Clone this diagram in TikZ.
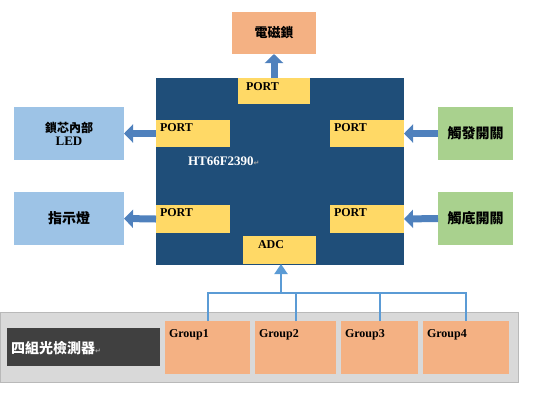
\documentclass[tikz,border=0pt]{standalone}
\usepackage{fontspec}
\setmainfont{Liberation Serif}
\newfontfamily\cjk{Noto Sans CJK TC}
\newfontfamily\symfont{DejaVu Sans}
\usetikzlibrary{arrows.meta}

\definecolor{mcublue}{HTML}{1F4E79}
\definecolor{portyellow}{HTML}{FFD966}
\definecolor{salmon}{HTML}{F4B183}
\definecolor{ledblue}{HTML}{9DC3E6}
\definecolor{swgreen}{HTML}{A9D18E}
\definecolor{arrowblue}{HTML}{4F81BD}
\definecolor{wireblue}{HTML}{5B9BD5}
\definecolor{panelgray}{HTML}{D9D9D9}
\definecolor{darkgray}{HTML}{404040}

\tikzset{every node/.style={inner sep=0pt, outer sep=0pt}}
\tikzset{box/.style={rectangle, minimum width=#1}}
\tikzset{portbox/.style={rectangle, fill=portyellow, minimum height=27pt}}
\tikzset{tag/.style={font=\bfseries\fontsize{12}{12}\selectfont, anchor=north west}}
\tikzset{hanzi/.style={font=\cjk\bfseries\fontsize{#1}{#1}\selectfont}}
\tikzstyle{fat}=[arrowblue, line width=7pt, -{Triangle[width=18pt,length=9pt]}]
\tikzstyle{wire}=[wireblue, line width=2pt]
\newcommand{\retmark}{{\symfont\fontsize{7}{7}\selectfont\color{gray!70}↵}}

\begin{document}
\begin{tikzpicture}[x=1pt, y=-1pt]
            \useasboundingbox (0,0) rectangle (534,400);
            \node [box=84pt, minimum height=42pt, fill=salmon, hanzi=13] (lock) at (274,33) {電磁鎖};
            \node [box=248pt, minimum height=187pt, fill=mcublue] (mcu) at (280,171.5) {};
            \node [text=white, font=\bfseries\fontsize{13}{13}\selectfont, anchor=west] (chip) at (188,161) {HT66F2390\retmark};
            \node [portbox, minimum width=72pt, minimum height=26pt] (portT) at (274,91) {};
            \node [portbox, minimum width=74pt] (portL1) at (193,133.5) {};
            \node [portbox, minimum width=74pt] (portR1) at (367,133.5) {};
            \node [portbox, minimum width=74pt, minimum height=28pt] (portL2) at (193,219) {};
            \node [portbox, minimum width=74pt, minimum height=28pt] (portR2) at (367,219) {};
            \node [portbox, minimum width=73pt, minimum height=28pt] (adc) at (279.5,250) {};
            \node [tag] at ([xshift=8pt, yshift=-5pt]portT.north west) {PORT};
            \node [tag] at ([xshift=4pt, yshift=-4pt]portL1.north west) {PORT};
            \node [tag] at ([xshift=4pt, yshift=-4pt]portR1.north west) {PORT};
            \node [tag] at ([xshift=4pt, yshift=-4pt]portL2.north west) {PORT};
            \node [tag] at ([xshift=4pt, yshift=-4pt]portR2.north west) {PORT};
            \node [tag] at ([xshift=15pt, yshift=-5pt]adc.north west) {ADC};
            \node [box=110pt, minimum height=53pt, fill=ledblue, align=center] (led) at (69,133.5)
                {{\cjk\bfseries\fontsize{12}{13}\selectfont 鎖芯內部}\\[1pt]{\bfseries\fontsize{13}{13}\selectfont LED}};
            \node [box=110pt, minimum height=53pt, fill=ledblue, hanzi=14] (lamp) at (69,218.5) {指示燈};
            \node [box=75pt, minimum height=53pt, fill=swgreen, hanzi=14] (trig) at (475.5,133.5) {觸發開關};
            \node [box=75pt, minimum height=53pt, fill=swgreen, hanzi=14] (stop) at (475.5,218.5) {觸底開關};
            \draw [fat] (portT.north) -- (lock.south);
            \draw [fat] (portL1.west) -- (led.east);
            \draw [fat] (portL2.west) -- (lamp.east);
            \draw [fat] (trig.west) -- (portR1.east);
            \draw [fat] (stop.west) -- (portR2.east);
            \node [box=518pt, minimum height=70pt, fill=panelgray, draw=gray!55] (panel) at (259,347) {};
            \node [box=153pt, minimum height=38pt, fill=darkgray] (sensor) at (83.5,347) {};
            \node [text=white, hanzi=14, anchor=west] at ([xshift=4pt, yshift=-1pt]sensor.west) {四組光檢測器\retmark};
            \node [box=85pt, minimum height=53pt, fill=salmon] (g1) at (207.5,347.5) {};
            \node [box=81pt, minimum height=53pt, fill=salmon] (g2) at (295.5,347.5) {};
            \node [box=77pt, minimum height=53pt, fill=salmon] (g3) at (379.5,347.5) {};
            \node [box=86pt, minimum height=53pt, fill=salmon] (g4) at (466,347.5) {};
            \node [tag] at ([xshift=4pt, yshift=-9pt]g1.north west) {Group1};
            \node [tag] at ([xshift=4pt, yshift=-9pt]g2.north west) {Group2};
            \node [tag] at ([xshift=4pt, yshift=-9pt]g3.north west) {Group3};
            \node [tag] at ([xshift=4pt, yshift=-9pt]g4.north west) {Group4};
            \coordinate (bus) at (281,293);
            \draw [wire] (g1.north) |- (g4.north |- bus) -- (g4.north);
            \draw [wire] (g2.north) -- (g2.north |- bus);
            \draw [wire] (g3.north) -- (g3.north |- bus);
            \draw [wire, -{Triangle[width=13pt,length=10pt]}] (bus) -- (bus |- adc.south);
        \end{tikzpicture}
\end{document}
